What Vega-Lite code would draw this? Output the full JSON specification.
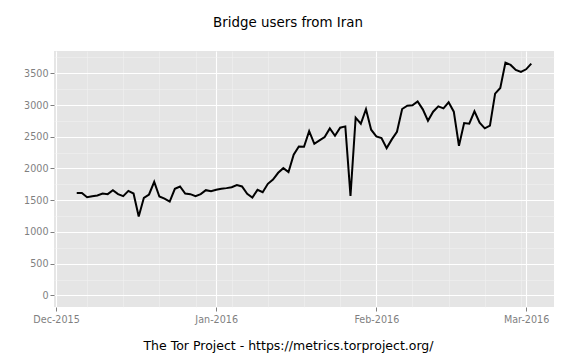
{
  "$schema": "https://vega.github.io/schema/vega-lite/v6.json",
  "width": 500,
  "height": 256,
  "autosize": "none",
  "padding": {"left": 54, "top": 51, "right": 22, "bottom": 53},
  "background": "white",
  "title": {"text": "Bridge users from Iran", "fontSize": 13.4, "font": "DejaVu Sans", "fontWeight": "normal", "color": "black", "offset": 22, "dx": -16},
  "config": {"view": {"fill": "#E5E5E5", "stroke": null}, "font": "DejaVu Sans"},
  "data": {"values": [
    {"date": "2015-12-05", "users": 1615},
    {"date": "2015-12-06", "users": 1615},
    {"date": "2015-12-07", "users": 1547},
    {"date": "2015-12-08", "users": 1563},
    {"date": "2015-12-09", "users": 1574},
    {"date": "2015-12-10", "users": 1605},
    {"date": "2015-12-11", "users": 1595},
    {"date": "2015-12-12", "users": 1658},
    {"date": "2015-12-13", "users": 1595},
    {"date": "2015-12-14", "users": 1563},
    {"date": "2015-12-15", "users": 1647},
    {"date": "2015-12-16", "users": 1605},
    {"date": "2015-12-17", "users": 1242},
    {"date": "2015-12-18", "users": 1537},
    {"date": "2015-12-19", "users": 1590},
    {"date": "2015-12-20", "users": 1789},
    {"date": "2015-12-21", "users": 1558},
    {"date": "2015-12-22", "users": 1526},
    {"date": "2015-12-23", "users": 1479},
    {"date": "2015-12-24", "users": 1679},
    {"date": "2015-12-25", "users": 1716},
    {"date": "2015-12-26", "users": 1605},
    {"date": "2015-12-27", "users": 1595},
    {"date": "2015-12-28", "users": 1563},
    {"date": "2015-12-29", "users": 1595},
    {"date": "2015-12-30", "users": 1658},
    {"date": "2015-12-31", "users": 1640},
    {"date": "2016-01-01", "users": 1665},
    {"date": "2016-01-02", "users": 1679},
    {"date": "2016-01-03", "users": 1690},
    {"date": "2016-01-04", "users": 1705},
    {"date": "2016-01-05", "users": 1737},
    {"date": "2016-01-06", "users": 1716},
    {"date": "2016-01-07", "users": 1600},
    {"date": "2016-01-08", "users": 1542},
    {"date": "2016-01-09", "users": 1663},
    {"date": "2016-01-10", "users": 1626},
    {"date": "2016-01-11", "users": 1758},
    {"date": "2016-01-12", "users": 1826},
    {"date": "2016-01-13", "users": 1932},
    {"date": "2016-01-14", "users": 2005},
    {"date": "2016-01-15", "users": 1942},
    {"date": "2016-01-16", "users": 2216},
    {"date": "2016-01-17", "users": 2347},
    {"date": "2016-01-18", "users": 2342},
    {"date": "2016-01-19", "users": 2589},
    {"date": "2016-01-20", "users": 2389},
    {"date": "2016-01-21", "users": 2442},
    {"date": "2016-01-22", "users": 2495},
    {"date": "2016-01-23", "users": 2632},
    {"date": "2016-01-24", "users": 2516},
    {"date": "2016-01-25", "users": 2642},
    {"date": "2016-01-26", "users": 2663},
    {"date": "2016-01-27", "users": 1568},
    {"date": "2016-01-28", "users": 2800},
    {"date": "2016-01-29", "users": 2705},
    {"date": "2016-01-30", "users": 2935},
    {"date": "2016-01-31", "users": 2611},
    {"date": "2016-02-01", "users": 2505},
    {"date": "2016-02-02", "users": 2479},
    {"date": "2016-02-03", "users": 2321},
    {"date": "2016-02-04", "users": 2458},
    {"date": "2016-02-05", "users": 2579},
    {"date": "2016-02-06", "users": 2937},
    {"date": "2016-02-07", "users": 2989},
    {"date": "2016-02-08", "users": 2995},
    {"date": "2016-02-09", "users": 3058},
    {"date": "2016-02-10", "users": 2932},
    {"date": "2016-02-11", "users": 2753},
    {"date": "2016-02-12", "users": 2895},
    {"date": "2016-02-13", "users": 2979},
    {"date": "2016-02-14", "users": 2947},
    {"date": "2016-02-15", "users": 3042},
    {"date": "2016-02-16", "users": 2895},
    {"date": "2016-02-17", "users": 2358},
    {"date": "2016-02-18", "users": 2716},
    {"date": "2016-02-19", "users": 2705},
    {"date": "2016-02-20", "users": 2900},
    {"date": "2016-02-21", "users": 2721},
    {"date": "2016-02-22", "users": 2632},
    {"date": "2016-02-23", "users": 2674},
    {"date": "2016-02-24", "users": 3179},
    {"date": "2016-02-25", "users": 3268},
    {"date": "2016-02-26", "users": 3668},
    {"date": "2016-02-27", "users": 3632},
    {"date": "2016-02-28", "users": 3553},
    {"date": "2016-02-29", "users": 3521},
    {"date": "2016-03-01", "users": 3563},
    {"date": "2016-03-02", "users": 3653}
  ]},
  "mark": {"type": "line", "color": "black", "strokeWidth": 2},
  "encoding": {
    "x": {
      "field": "date",
      "type": "temporal",
      "scale": {
        "type": "utc",
        "domain": [
          {"year": 2015, "month": 11, "date": 30, "hours": 14, "minutes": 24, "utc": true},
          {"year": 2016, "month": 3, "date": 6, "hours": 9, "minutes": 36, "utc": true}
        ]
      },
      "axis": {
        "title": "The Tor Project - https://metrics.torproject.org/",
        "titleFontSize": 12.5,
        "titleFontWeight": "normal",
        "titleColor": "black",
        "titleX": 234,
        "titleY": 38,
        "titleAlign": "center",
        "titleBaseline": "middle",
        "values": [
          {"year": 2015, "month": 12, "date": 1, "utc": true},
          {"year": 2015, "month": 12, "date": 7, "utc": true},
          {"year": 2015, "month": 12, "date": 14, "utc": true},
          {"year": 2015, "month": 12, "date": 21, "utc": true},
          {"year": 2015, "month": 12, "date": 28, "utc": true},
          {"year": 2016, "month": 1, "date": 1, "utc": true},
          {"year": 2016, "month": 1, "date": 4, "utc": true},
          {"year": 2016, "month": 1, "date": 11, "utc": true},
          {"year": 2016, "month": 1, "date": 18, "utc": true},
          {"year": 2016, "month": 1, "date": 25, "utc": true},
          {"year": 2016, "month": 2, "date": 1, "utc": true},
          {"year": 2016, "month": 2, "date": 8, "utc": true},
          {"year": 2016, "month": 2, "date": 15, "utc": true},
          {"year": 2016, "month": 2, "date": 22, "utc": true},
          {"year": 2016, "month": 2, "date": 29, "utc": true},
          {"year": 2016, "month": 3, "date": 1, "utc": true}
        ],
        "labelExpr": "utcdate(datum.value) === 1 ? utcFormat(datum.value, '%b-%Y') : ''",
        "gridColor": {"condition": {"test": "utcdate(datum.value) === 1", "value": "#FFFFFF"}, "value": "#F2F2F2"},
        "gridWidth": {"condition": {"test": "utcdate(datum.value) === 1", "value": 1.1}, "value": 0.5},
        "tickOpacity": {"condition": {"test": "utcdate(datum.value) === 1", "value": 1}, "value": 0},
        "tickColor": "#7F7F7F",
        "tickSize": 4,
        "domain": false,
        "labelColor": "#7F7F7F",
        "labelFontSize": 9.6,
        "labelPadding": 3,
        "labelFlush": false,
        "labelOverlap": false
      }
    },
    "y": {
      "field": "users",
      "type": "quantitative",
      "scale": {"domain": [-183.4, 3851.4], "nice": false, "zero": false},
      "axis": {
        "title": null,
        "values": [0, 250, 500, 750, 1000, 1250, 1500, 1750, 2000, 2250, 2500, 2750, 3000, 3250, 3500, 3750],
        "format": "d",
        "labelExpr": "datum.value % 500 === 0 ? datum.label : ''",
        "gridColor": {"condition": {"test": "datum.value % 500 === 0", "value": "#FFFFFF"}, "value": "#F2F2F2"},
        "gridWidth": {"condition": {"test": "datum.value % 500 === 0", "value": 1.1}, "value": 0.5},
        "tickOpacity": {"condition": {"test": "datum.value % 500 === 0", "value": 1}, "value": 0},
        "tickColor": "#7F7F7F",
        "tickSize": 4,
        "domain": false,
        "labelColor": "#7F7F7F",
        "labelFontSize": 9.6,
        "labelPadding": 2,
        "labelOverlap": false
      }
    }
  }
}
